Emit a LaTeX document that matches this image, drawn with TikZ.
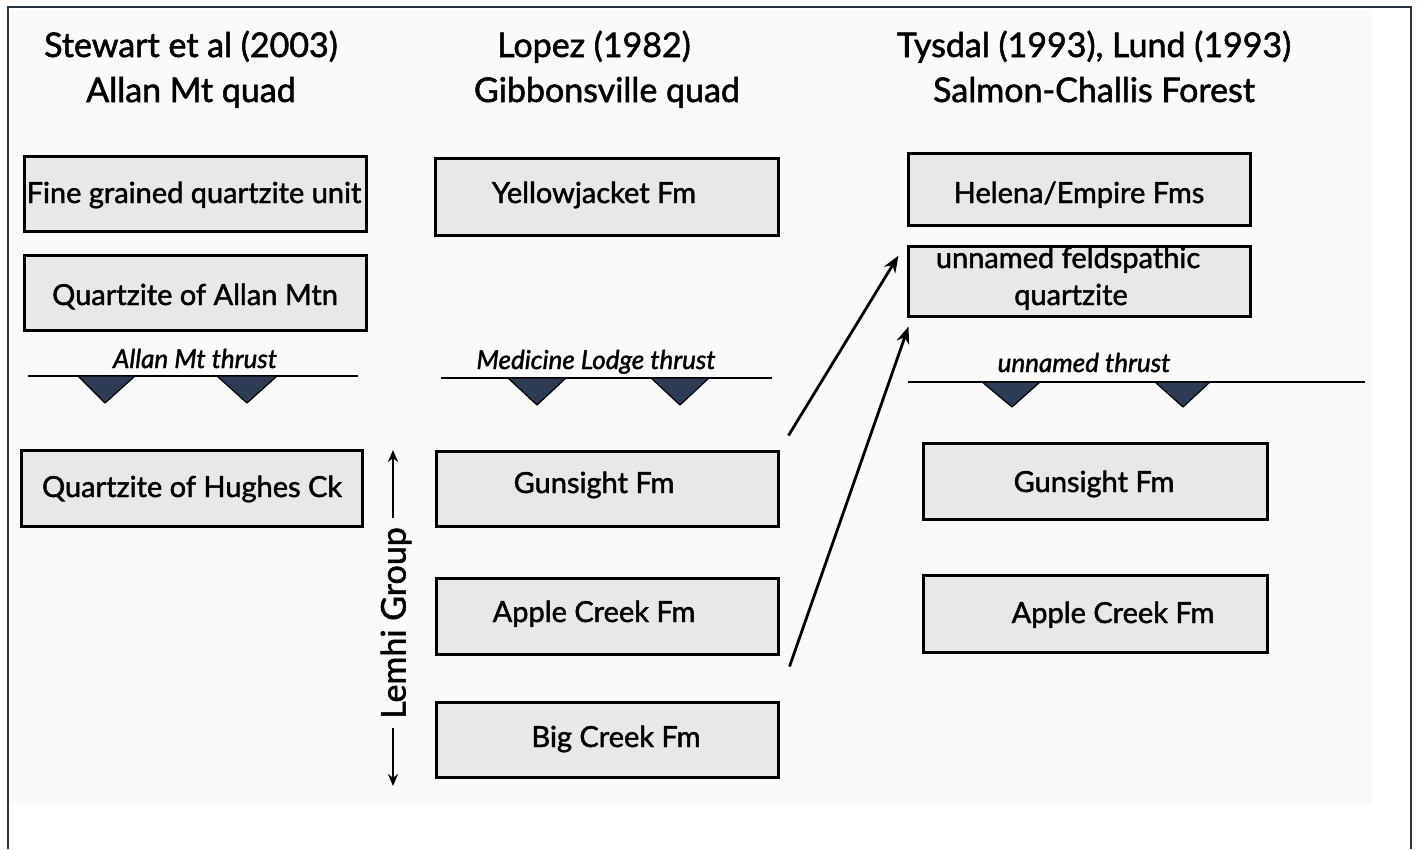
\documentclass[tikz,border=0pt]{standalone}
\usepackage{fontspec}
\setmainfont{Lato}[FakeBold=1.6]
\usetikzlibrary{arrows.meta}
\definecolor{framecol}{HTML}{2B3340}
\definecolor{boxfill}{HTML}{E8E8E8}
\definecolor{toothcol}{HTML}{2E3B55}
\definecolor{paper}{HTML}{FAFAFA}

\begin{document}
\begin{tikzpicture}[x=1pt,y=-1pt,
  unitbox/.style={draw=black, line width=3pt, fill=boxfill, inner sep=0pt},
  title/.style={font=\fontsize{34}{38}\selectfont, inner sep=0pt, anchor=base},
  boxtext/.style={font=\fontsize{29}{31}\selectfont, inner sep=0pt, anchor=base},
  thrustlabel/.style={font=\itshape\fontsize{26}{28}\selectfont, inner sep=0pt, anchor=base},
  fault/.style={line width=2.8pt},
  tooth/.style={draw=black, line width=1.2pt, fill=toothcol, line join=round},
  link/.style={line width=2.8pt, -{Stealth[length=17pt,width=13pt]}},
  lemarrow/.style={line width=2.6pt, -{Stealth[length=12pt,width=10pt]}},
]
\useasboundingbox (0,0) rectangle (1418,849);
\fill[white] (0,0) rectangle (1418,849);
\fill[paper] (10,10) rectangle (1372,804);
\draw[framecol, line width=2pt] (8,849) -- (8,7) -- (1411,7) -- (1411,849);

% column headings
\node[title] (h1a) at (191,57) {Stewart et al (2003)};
\node[title] (h1b) at (191,102) {Allan Mt quad};
\node[title] (h2a) at (594,57) {Lopez (1982)};
\node[title] (h2b) at (607,102) {Gibbonsville quad};
\node[title] (h3a) at (1094,57) {Tysdal (1993), Lund (1993)};
\node[title] (h3b) at (1094,102) {Salmon-Challis Forest};

% unit boxes
\node[unitbox, minimum width=342, minimum height=75] (fine)   at (195,193.5) {};
\node[unitbox, minimum width=342, minimum height=75] (allan)  at (195,292.5) {};
\node[unitbox, minimum width=341, minimum height=76] (hughes) at (191.5,488) {};
\node[unitbox, minimum width=343, minimum height=77] (yellow) at (606.5,196.5) {};
\node[unitbox, minimum width=342, minimum height=75] (gunM)   at (607,488.5) {};
\node[unitbox, minimum width=342, minimum height=76] (appleM) at (607,616) {};
\node[unitbox, minimum width=342, minimum height=75] (bigM)   at (607,739.5) {};
\node[unitbox, minimum width=342, minimum height=72] (helena) at (1079,189) {};
\node[unitbox, minimum width=342, minimum height=70] (feld)   at (1079,281) {};
\node[unitbox, minimum width=344, minimum height=76] (gunR)   at (1095,481) {};
\node[unitbox, minimum width=344, minimum height=77] (appleR) at (1095,613.5) {};

% unit names
\node[boxtext] (tFine)   at (194,203) {Fine grained quartzite unit};
\node[boxtext] (tAllan)  at (195,305) {Quartzite of Allan Mtn};
\node[boxtext] (tHughes) at (192,497) {Quartzite of Hughes Ck};
\node[boxtext] (tYellow) at (594,203) {Yellowjacket Fm};
\node[boxtext] (tGunM)   at (594,493) {Gunsight Fm};
\node[boxtext] (tAppleM) at (594,622) {Apple Creek Fm};
\node[boxtext] (tBigM)   at (616,747) {Big Creek Fm};
\node[boxtext] (tHelena) at (1079,203) {Helena/Empire Fms};
\node[boxtext] (tFeldA)  at (1068,268) {unnamed feldspathic};
\node[boxtext] (tFeldB)  at (1071,305) {quartzite};
\node[boxtext] (tGunR)   at (1094,492) {Gunsight Fm};
\node[boxtext] (tAppleR) at (1113,623) {Apple Creek Fm};

% thrust faults with teeth on the lower plate
\node[thrustlabel] (l1) at (195,368) {Allan Mt thrust};
\draw[fault] (28,376) -- (358,376);
\filldraw[tooth] (78,376) -- (135,376) -- (105,403) -- cycle;
\filldraw[tooth] (217,376) -- (277,376) -- (247,403) -- cycle;

\node[thrustlabel] (l2) at (596,369) {Medicine Lodge thrust};
\draw[fault] (441,378) -- (772,378);
\filldraw[tooth] (508,378) -- (566,378) -- (537,405) -- cycle;
\filldraw[tooth] (651,378) -- (709,378) -- (680,405) -- cycle;

\node[thrustlabel] (l3) at (1084,372) {unnamed thrust};
\draw[fault] (908,382) -- (1365,382);
\filldraw[tooth] (982,382) -- (1040,382) -- (1012,407) -- cycle;
\filldraw[tooth] (1155,382) -- (1210,382) -- (1183,407) -- cycle;

% correlation arrows
\draw[link] ([shift={(9,-14)}]gunM.north east) -- ([shift={(-8,11)}]feld.north west);
\draw[link] ([shift={(10,-34)}]bigM.north east) -- ([shift={(2,9)}]feld.south west);

% Lemhi Group bracket
\node[rotate=90, font=\fontsize{34}{36}\selectfont, inner sep=9pt] (lemhi) at (396,623) {Lemhi Group};
\coordinate (lgTop) at (393,450);
\coordinate (lgBot) at (393,786);
\draw[lemarrow] ([xshift=-3]lemhi.east) -- (lgTop);
\draw[lemarrow] ([xshift=-3]lemhi.west) -- (lgBot);
\end{tikzpicture}
\end{document}
